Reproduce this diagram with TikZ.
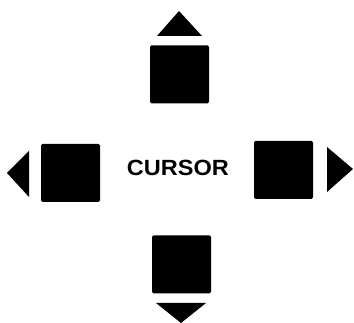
\documentclass[tikz,border=0pt]{standalone}
\usepackage{fontspec}
\setmainfont{Liberation Sans}
\usetikzlibrary{positioning}

\begin{document}
\begin{tikzpicture}[
    x=1pt, y=-1pt,
    keybox/.style={fill=black, rounded corners=1.5pt, inner sep=0pt, minimum width=59pt, minimum height=58pt},
    pointer/.style={fill=black},
    label/.style={font=\fontsize{22}{22}\selectfont\bfseries, inner sep=0pt}
]
    % Rahmen
    \useasboundingbox (0,0) rectangle (354,323);

    % Tasten
    \node[keybox] (kup) at (179.5, 74.5) {};
    \node[keybox] (kleft) at (70.5, 173) {};
    \node[keybox] (kright) at (283.5, 170) {};
    \node[keybox] (kdown) at (181.5, 264.5) {};

    % Beschriftung
    \node[label] (cursor) at (178, 168) {\addfontfeature{FakeStretch=1.07}CURSOR};

    % Pfeilspitzen
    \fill[pointer] (179, 11) -- (202, 36) -- (157, 36) -- cycle;
    \fill[pointer] (7, 173) -- (29, 151) -- (29, 197) -- cycle;
    \fill[pointer] (353, 169) -- (327, 147) -- (327, 192) -- cycle;
    \fill[pointer] (181, 323) -- (156, 303) -- (206, 303) -- cycle;
\end{tikzpicture}
\end{document}
